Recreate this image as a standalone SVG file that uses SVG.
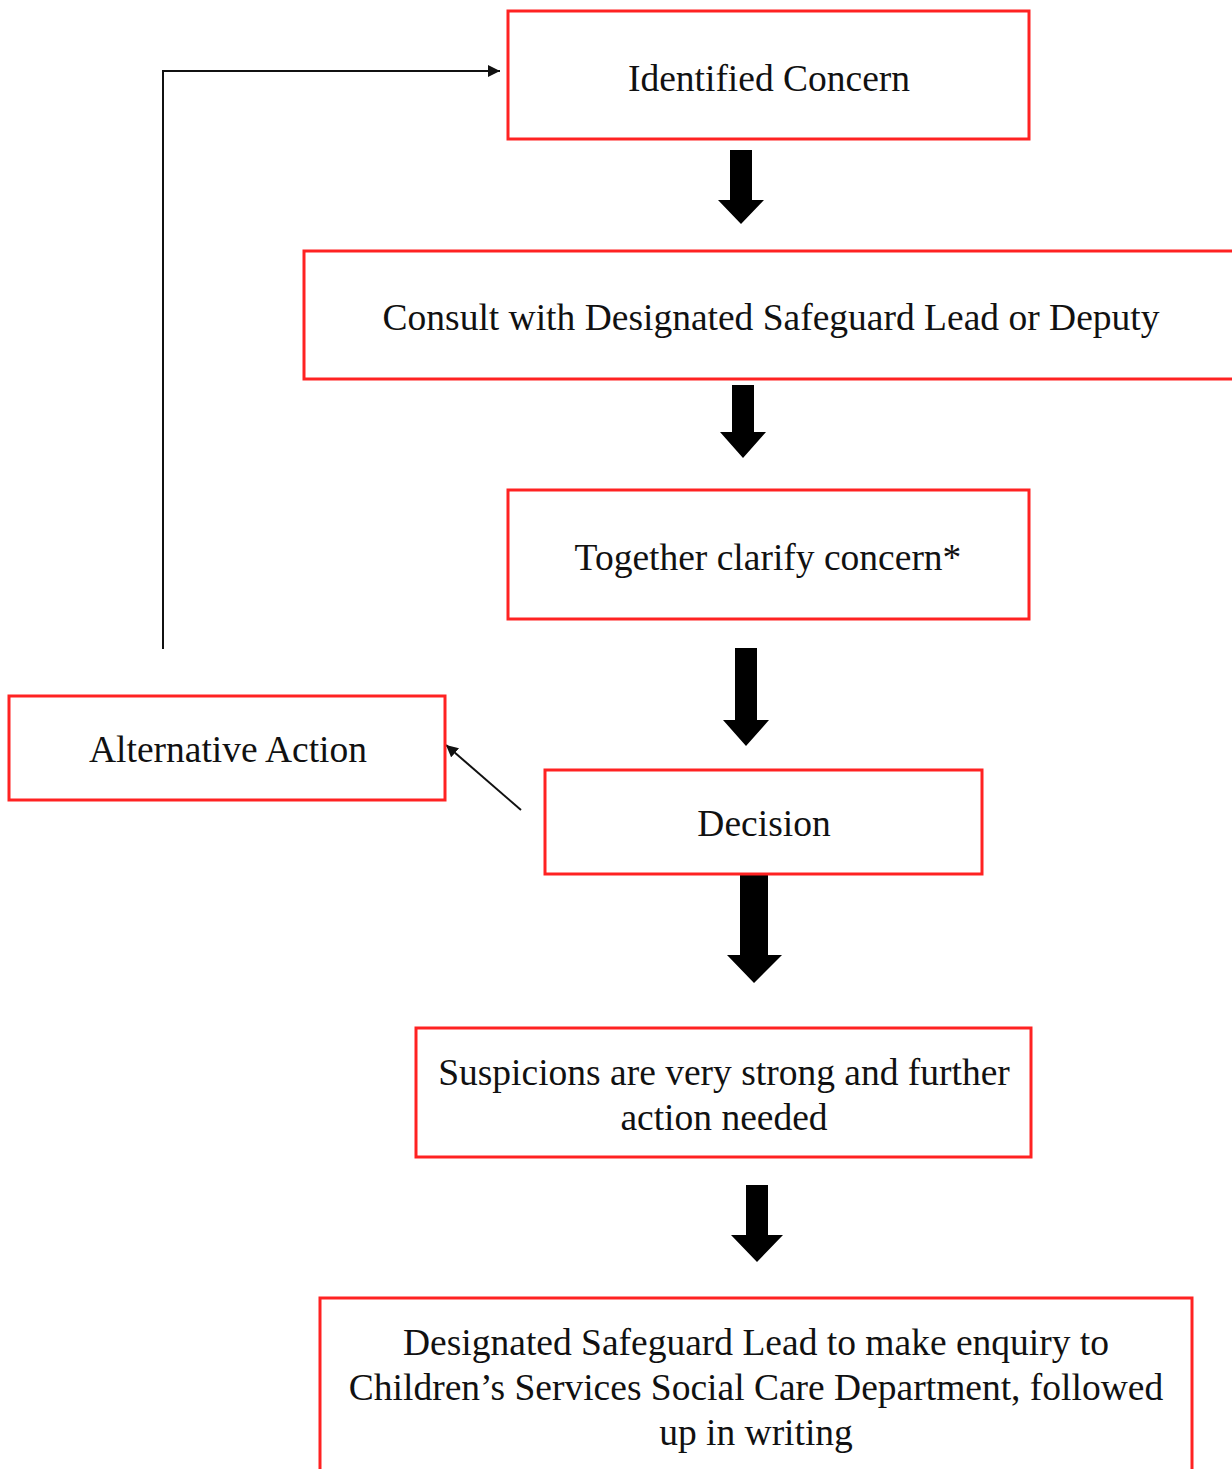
<svg xmlns="http://www.w3.org/2000/svg" width="1232" height="1469" viewBox="0 0 1232 1469">
<defs>
<style>
.box{fill:#fff;stroke:#ff2222;stroke-width:3}
.t{font-family:"Liberation Serif","Times New Roman",serif;font-size:37.5px;fill:#111;text-anchor:middle}
.ln{fill:none;stroke:#111;stroke-width:2}
.blk{fill:#000}
</style>
<marker id="ah2" viewBox="0 0 10 10" refX="10" refY="5" markerWidth="12" markerHeight="12" markerUnits="userSpaceOnUse" orient="auto">
<path d="M0,0 L10,5 L0,10 z" fill="#111"/>
</marker>
</defs>
<rect width="1232" height="1469" fill="#fff"/>
<g id="connectors">
<path class="ln" d="M163,649 V71 H500" marker-end="url(#ah2)"/>
<path class="ln" d="M521,810 L446,745" marker-end="url(#ah2)"/>
<path class="blk" d="M730,150 H752 V200 H764 L741,224 L718,200 H730 Z"/>
<path class="blk" d="M732,385 H754 V432 H766 L743,458 L720,432 H732 Z"/>
<path class="blk" d="M735,648 H757 V720 H769 L746,746 L723,720 H735 Z"/>
<path class="blk" d="M740,875 H768 V955 H782 L754,983 L727,955 H740 Z"/>
<path class="blk" d="M746,1185 H768 V1235 H783 L757,1262 L731,1235 H746 Z"/>
</g>
<g id="n1"><rect class="box" x="508" y="11" width="521" height="128"/><text class="t" x="769" y="91">Identified Concern</text></g>
<g id="n2"><rect class="box" x="304" y="251" width="940" height="128"/><text class="t" x="771" y="330">Consult with Designated Safeguard Lead or Deputy</text></g>
<g id="n3"><rect class="box" x="508" y="490" width="521" height="129"/><text class="t" x="768" y="570">Together clarify concern*</text></g>
<g id="n4"><rect class="box" x="9" y="696" width="436" height="104"/><text class="t" x="228" y="762">Alternative Action</text></g>
<g id="n5"><rect class="box" x="545" y="770" width="437" height="104"/><text class="t" x="764" y="836">Decision</text></g>
<g id="n6"><rect class="box" x="416" y="1028" width="615" height="129"/><text class="t" x="724" y="1085">Suspicions are very strong and further</text><text class="t" x="724" y="1130">action needed</text></g>
<g id="n7"><rect class="box" x="320" y="1298" width="872" height="190"/><text class="t" x="756" y="1355">Designated Safeguard Lead to make enquiry to</text><text class="t" x="756" y="1400">Children’s Services Social Care Department, followed</text><text class="t" x="756" y="1445">up in writing</text></g>
</svg>
